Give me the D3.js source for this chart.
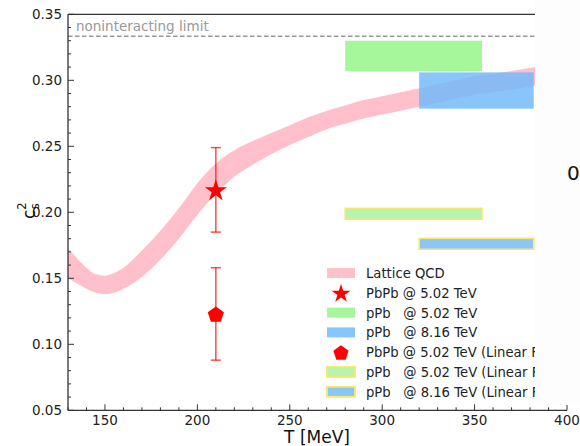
<!DOCTYPE html>
<html><head><meta charset="utf-8">
<script src="https://cdn.jsdelivr.net/npm/d3@7"></script>
<style>body{margin:0;background:#fff}svg{display:block;font-family:"DejaVu Sans",sans-serif}</style>
</head><body><svg id="c" width="580" height="446"></svg>
<script>
// Lattice QCD band
const latticeT     = [130,135,140,145,150,155,160,170,180,190,200,210,220,230,240,250,260,270,280,290,300,310,320,330,340,350,360,370,383];
const latticeUpper = [0.173,0.165,0.158,0.153,0.152,0.154,0.158,0.171,0.186,0.203,0.222,0.237,0.247,0.254,0.260,0.266,0.272,0.277,0.281,0.285,0.288,0.291,0.294,0.297,0.300,0.303,0.305,0.307,0.310];
const latticeLower = [0.150,0.146,0.142,0.139,0.138,0.139,0.142,0.151,0.164,0.180,0.198,0.214,0.227,0.236,0.244,0.251,0.257,0.263,0.267,0.271,0.274,0.277,0.280,0.283,0.286,0.289,0.291,0.293,0.296];
// PbPb points
const pbpbT = 210;
const pbpbStar = {v:0.217, lo:0.185, hi:0.249};
const pbpbLinear = {v:0.123, lo:0.088, hi:0.158};
// pPb boxes [Tmin, Tmax, vmin, vmax]
const ppb502 = [280, 354, 0.307, 0.330];
const ppb816 = [320, 382, 0.2785, 0.306];
const ppb502Lin = [280, 354, 0.1947, 0.203];
const ppb816Lin = [320, 382, 0.172, 0.1803];
const noninteracting = 1/3;
const xTicks = [150,200,250,300,350,400];
const yTicks = [0.05,0.10,0.15,0.20,0.25,0.30,0.35];
const legendLabels = ["Lattice QCD","PbPb @ 5.02 TeV","pPb   @ 5.02 TeV","pPb   @ 8.16 TeV","PbPb @ 5.02 TeV (Linear Fit)","pPb   @ 5.02 TeV (Linear Fit)","pPb   @ 8.16 TeV (Linear Fit)"];

const svg = d3.select("#c");
const x = d3.scaleLinear().domain([130,400]).range([68,567]);
const y = d3.scaleLinear().domain([0.05,0.35]).range([410.3,14.3]);
const PINK="#ffc0cb", GREEN="#a6f79c", BLUE="#87c6fa", GREENL="#b8f3b0", BLUEL="#8cc6f8", GOLD="#f7e86a", RED="#ff0000";

// band
const area = d3.area().x((d,i)=>x(latticeT[i])).y0((d,i)=>y(latticeLower[i])).y1((d,i)=>y(latticeUpper[i])).curve(d3.curveMonotoneX);
svg.append("path").attr("d", area(latticeT)).attr("fill", PINK);

// boxes
function box(b, fill, stroke, op){
  const r = svg.append("rect").attr("x",x(b[0])).attr("y",y(b[3])).attr("width",x(b[1])-x(b[0])).attr("height",y(b[2])-y(b[3])).attr("fill",fill).attr("fill-opacity",op);
  if(stroke) r.attr("stroke",stroke).attr("stroke-width",1.6);
}
box(ppb502, GREEN, null, 1);
box(ppb816, "#6fb8f9", null, 0.82);
box(ppb502Lin, GREENL, GOLD, 1);
box(ppb816Lin, BLUEL, GOLD, 1);

// noninteracting
svg.append("line").attr("x1",x(130)).attr("x2",x(400)).attr("y1",y(noninteracting)).attr("y2",y(noninteracting))
  .attr("stroke","#999").attr("stroke-width",1.4).attr("stroke-dasharray","4.5,2.5");
svg.append("text").attr("x",76).attr("y",31).attr("font-size",13.5).attr("fill","#999").text("noninteracting limit");

// error bars
function errbar(p){
  const g = svg.append("g").attr("stroke",RED).attr("stroke-opacity",0.75).attr("stroke-width",1.4);
  g.append("line").attr("x1",x(pbpbT)).attr("x2",x(pbpbT)).attr("y1",y(p.lo)).attr("y2",y(p.hi));
  [p.lo,p.hi].forEach(v=>g.append("line").attr("x1",x(pbpbT)-5).attr("x2",x(pbpbT)+5).attr("y1",y(v)).attr("y2",y(v)));
}
errbar(pbpbStar); errbar(pbpbLinear);
svg.append("path").attr("d", d3.symbol(d3.symbolStar, 150)()).attr("transform",`translate(${x(pbpbT)},${y(pbpbStar.v)+1})`).attr("fill",RED);
function pentagon(r){const pts=[];for(let i=0;i<5;i++){const a=-Math.PI/2+i*2*Math.PI/5;pts.push([r*Math.cos(a),r*Math.sin(a)]);}return "M"+pts.join("L")+"Z";}
svg.append("path").attr("d", pentagon(8.5)).attr("transform",`translate(${x(pbpbT)},${y(pbpbLinear.v)+1})`).attr("fill",RED);

// legend
const lx=327, ly0=273, dy=19.8;
legendLabels.forEach((lab,i)=>{
  const cy = ly0 + i*dy;
  if(i===1) svg.append("path").attr("d", d3.symbol(d3.symbolStar, 110)()).attr("transform",`translate(341,${cy+1})`).attr("fill",RED);
  else if(i===4) svg.append("path").attr("d", pentagon(8)).attr("transform",`translate(341,${cy+1})`).attr("fill",RED);
  else {
    const fills=[PINK,null,GREEN,BLUE,null,GREENL,BLUEL];
    const r=svg.append("rect").attr("x",lx).attr("y",cy-5).attr("width",28).attr("height",10).attr("fill",fills[i]);
    if(i>=5) r.attr("stroke",GOLD).attr("stroke-width",1.8);
  }
  svg.append("text").attr("x",366).attr("y",cy+5).attr("font-size",13.2).attr("fill","#222").style("white-space","pre").text(lab);
});

// axes
const ax = svg.append("g").attr("stroke","#333");
ax.append("line").attr("x1",68).attr("x2",68).attr("y1",14.3).attr("y2",410.3).attr("stroke-width",1.3);
ax.append("line").attr("x1",68).attr("x2",567).attr("y1",410.3).attr("y2",410.3).attr("stroke-width",1.3);
ax.append("line").attr("x1",68).attr("x2",567).attr("y1",14.3).attr("y2",14.3).attr("stroke-width",1.3);
d3.range(130,401,10).forEach(t=>{
  const major = xTicks.includes(t);
  ax.append("line").attr("x1",x(t)).attr("x2",x(t)).attr("y1",410.3).attr("y2",410.3-(major?6:3)).attr("stroke-width",1);
});
d3.range(5,36,1).forEach(k=>{
  const v=k/100, major = k%5===0;
  ax.append("line").attr("x1",68).attr("x2",68+(major?6:3)).attr("y1",y(v)).attr("y2",y(v)).attr("stroke-width",1);
});
xTicks.forEach(t=>svg.append("text").attr("x",x(t)).attr("y",424.5).attr("text-anchor","middle").attr("font-size",13.5).attr("fill","#222").text(t));
yTicks.forEach(v=>svg.append("text").attr("x",62).attr("y",y(v)+5).attr("text-anchor","end").attr("font-size",13.5).attr("fill","#222").text(d3.format(".2f")(v)));
svg.append("text").attr("x",317).attr("y",443).attr("text-anchor","middle").attr("font-size",17).attr("fill","#111").text("T [MeV]");
const yl = svg.append("text").attr("transform","translate(35,219) rotate(-90)").attr("font-size",17).attr("fill","#111");
yl.append("tspan").text("c");
yl.append("tspan").attr("font-size",11.5).attr("dy",-9).text("2");
yl.append("tspan").attr("font-size",11.5).attr("dx",-7).attr("dy",13).text("s");

// overlapping neighbouring panel
svg.append("rect").attr("x",535).attr("y",0).attr("width",45).attr("height",405).attr("fill","#fdfdfd");
svg.append("text").attr("x",567).attr("y",180).attr("font-size",20).attr("fill","#111").text("0");
</script></body></html>
